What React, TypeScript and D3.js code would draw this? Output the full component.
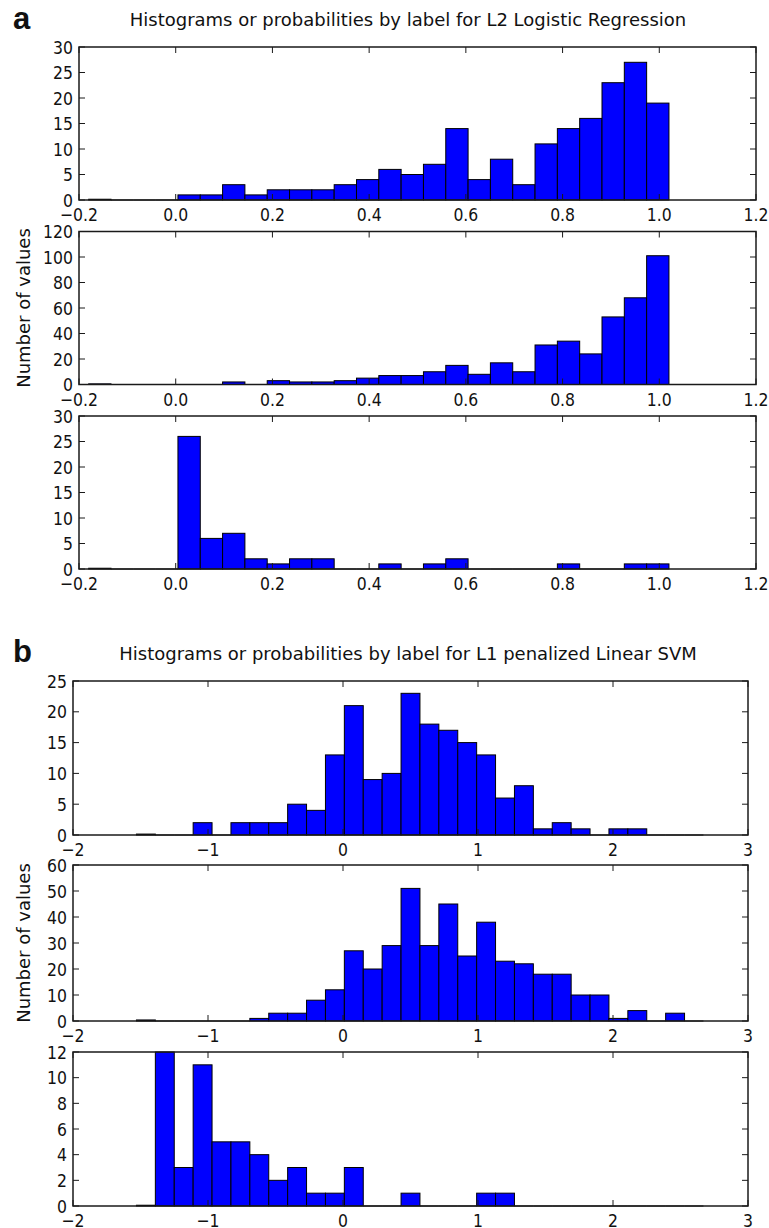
import React from "react";
import * as d3 from "d3";

// ---------- data ----------
const titleA = "Histograms or probabilities by label for L2 Logistic Regression";
const titleB = "Histograms or probabilities by label for L1 penalized Linear SVM";
const yLabel = "Number of values";

const binStartA = -0.18;
const binEndA = 1.02;
const countsA1 = [0.15, 0, 0, 0, 1, 1, 3, 1, 2, 2, 2, 3, 4, 6, 5, 7, 14, 4, 8, 3, 11, 14, 16, 23, 27, 19];
const countsA2 = [0.5, 0, 0, 0, 0, 0, 2, 0, 3, 2, 2, 3, 5, 7, 7, 10, 15, 8, 17, 10, 31, 34, 24, 53, 68, 101];
const countsA3 = [0.15, 0, 0, 0, 26, 6, 7, 2, 1, 2, 2, 0, 0, 1, 0, 1, 2, 0, 0, 0, 0, 1, 0, 0, 1, 1];

const binStartB = -1.53;
const binEndB = 2.67;
const countsB1 = [0.15, 0, 0, 2, 0, 2, 2, 2, 5, 4, 13, 21, 9, 10, 23, 18, 17, 15, 13, 6, 8, 1, 2, 1, 0, 1, 1, 0, 0, 0];
const countsB2 = [0.4, 0, 0, 0, 0, 0, 1, 3, 3, 8, 12, 27, 20, 29, 51, 29, 45, 25, 38, 23, 22, 18, 18, 10, 10, 1, 4, 0, 3, 0];
const countsB3 = [0.06, 12, 3, 11, 5, 5, 4, 2, 3, 1, 1, 3, 0, 0, 1, 0, 0, 0, 1, 1, 0, 0, 0, 0, 0, 0, 0, 0, 0, 0];

const xTicksA = [-0.2, 0.0, 0.2, 0.4, 0.6, 0.8, 1.0, 1.2];
const xTicksB = [-2, -1, 0, 1, 2, 3];
const yTicksA1 = [0, 5, 10, 15, 20, 25, 30];
const yTicksA2 = [0, 20, 40, 60, 80, 100, 120];
const yTicksA3 = [0, 5, 10, 15, 20, 25, 30];
const yTicksB1 = [0, 5, 10, 15, 20, 25];
const yTicksB2 = [0, 10, 20, 30, 40, 50, 60];
const yTicksB3 = [0, 2, 4, 6, 8, 10, 12];

// ---------- style ----------
const FONT = "DejaVu Sans, Verdana, sans-serif";
const SX = 0.87;
const TICK_FS = 18;
const BAR_FILL = "#0000ff";
const FRAME = "#1a1a1a";

function T({ x, y, anchor = "middle", size = TICK_FS, children, weight = "normal", family = FONT, sx = SX }: any) {
  return (
    <text
      transform={`translate(${x},${y}) scale(${sx},1)`}
      textAnchor={anchor}
      fontSize={size}
      fontFamily={family}
      fontWeight={weight}
      fill="#111"
    >
      {children}
    </text>
  );
}

function Panel({ x0, x1, y0, y1, xDomain, xTicks, yMax, yTicks, counts, binStart, binEnd, xFmt }: any) {
  const x = d3.scaleLinear().domain(xDomain).range([x0, x1]);
  const y = d3.scaleLinear().domain([0, yMax]).range([y1, y0]);
  const n = counts.length;
  const w = (binEnd - binStart) / n;
  const tickLen = 6;
  return (
    <g>
      {counts.map((c: number, i: number) => {
        const a = x(binStart + i * w);
        const b = x(binStart + (i + 1) * w);
        if (c <= 0) {
          return <line key={i} x1={a} x2={b} y1={y(0)} y2={y(0)} stroke="#000" strokeWidth={1} />;
        }
        return (
          <rect
            key={i}
            x={a}
            y={y(c)}
            width={b - a}
            height={y(0) - y(c)}
            fill={BAR_FILL}
            stroke="#000"
            strokeWidth={1}
          />
        );
      })}
      {xTicks.map((t: number, i: number) => (
        <g key={"xt" + i}>
          <line x1={x(t)} x2={x(t)} y1={y1} y2={y1 - tickLen} stroke={FRAME} strokeWidth={1} />
          <line x1={x(t)} x2={x(t)} y1={y0} y2={y0 + tickLen} stroke={FRAME} strokeWidth={1} />
          <T x={x(t)} y={y1 + 21}>{xFmt(t)}</T>
        </g>
      ))}
      {yTicks.map((t: number, i: number) => (
        <g key={"yt" + i}>
          <line x1={x0} x2={x0 + tickLen} y1={y(t)} y2={y(t)} stroke={FRAME} strokeWidth={1} />
          <line x1={x1} x2={x1 - tickLen} y1={y(t)} y2={y(t)} stroke={FRAME} strokeWidth={1} />
          <T x={x0 - 6} y={y(t) + 6.5} anchor="end">{d3.format("d")(t)}</T>
        </g>
      ))}
      <rect x={x0} y={y0} width={x1 - x0} height={y1 - y0} fill="none" stroke={FRAME} strokeWidth={1.5} />
    </g>
  );
}

export default function App() {
  const fmtA = d3.format(".1f");
  const fmtB = d3.format("d");
  const ax0 = 79, ax1 = 756;
  const bx0 = 73, bx1 = 748;
  const aRows = [[47, 200], [231.5, 384.5], [416, 569]];
  const bRows = [[681, 835], [865, 1021], [1052, 1206]];
  return (
    <svg width={769} height={1228} style={{ position: "absolute", left: 0, top: 0, background: "#fff" }}>
      <rect x={0} y={0} width={769} height={1228} fill="#fff" />
      {/* panel a */}
      <T x={13} y={29} anchor="start" size={31} weight="bold" family="Liberation Sans, Arial, sans-serif" sx={1}>a</T>
      <T x={408} y={26} sx={1}>{titleA}</T>
      <Panel x0={ax0} x1={ax1} y0={aRows[0][0]} y1={aRows[0][1]} xDomain={[-0.2, 1.2]} xTicks={xTicksA} yMax={30} yTicks={yTicksA1} counts={countsA1} binStart={binStartA} binEnd={binEndA} xFmt={fmtA} />
      <Panel x0={ax0} x1={ax1} y0={aRows[1][0]} y1={aRows[1][1]} xDomain={[-0.2, 1.2]} xTicks={xTicksA} yMax={120} yTicks={yTicksA2} counts={countsA2} binStart={binStartA} binEnd={binEndA} xFmt={fmtA} />
      <Panel x0={ax0} x1={ax1} y0={aRows[2][0]} y1={aRows[2][1]} xDomain={[-0.2, 1.2]} xTicks={xTicksA} yMax={30} yTicks={yTicksA3} counts={countsA3} binStart={binStartA} binEnd={binEndA} xFmt={fmtA} />
      <text transform={`translate(30,${(aRows[1][0] + aRows[1][1]) / 2}) rotate(-90)`} textAnchor="middle" fontSize={18} fontFamily={FONT} fill="#111">{yLabel}</text>

      {/* panel b */}
      <T x={13} y={662} anchor="start" size={31} weight="bold" family="Liberation Sans, Arial, sans-serif" sx={1}>b</T>
      <T x={408} y={660} sx={1}>{titleB}</T>
      <Panel x0={bx0} x1={bx1} y0={bRows[0][0]} y1={bRows[0][1]} xDomain={[-2, 3]} xTicks={xTicksB} yMax={25} yTicks={yTicksB1} counts={countsB1} binStart={binStartB} binEnd={binEndB} xFmt={fmtB} />
      <Panel x0={bx0} x1={bx1} y0={bRows[1][0]} y1={bRows[1][1]} xDomain={[-2, 3]} xTicks={xTicksB} yMax={60} yTicks={yTicksB2} counts={countsB2} binStart={binStartB} binEnd={binEndB} xFmt={fmtB} />
      <Panel x0={bx0} x1={bx1} y0={bRows[2][0]} y1={bRows[2][1]} xDomain={[-2, 3]} xTicks={xTicksB} yMax={12} yTicks={yTicksB3} counts={countsB3} binStart={binStartB} binEnd={binEndB} xFmt={fmtB} />
      <text transform={`translate(30,${(bRows[1][0] + bRows[1][1]) / 2}) rotate(-90)`} textAnchor="middle" fontSize={18} fontFamily={FONT} fill="#111">{yLabel}</text>
    </svg>
  );
}
